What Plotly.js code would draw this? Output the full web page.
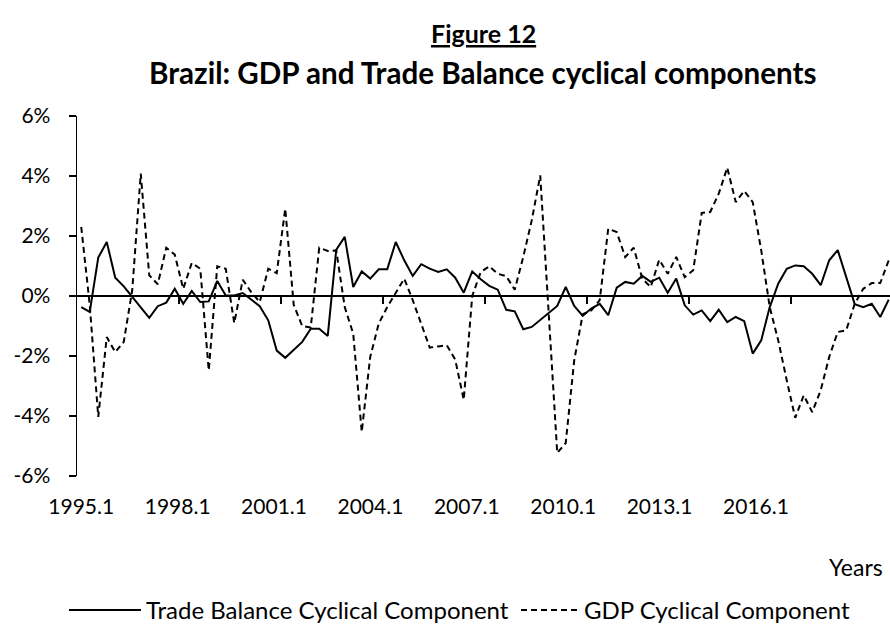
<!DOCTYPE html>
<html>
<head>
<meta charset="utf-8">
<script src="https://cdn.plot.ly/plotly-3.0.1.min.js"></script>
<style>
html,body{margin:0;padding:0;background:#fff;overflow:hidden;}
#chart{width:890px;height:634px;}
</style>
</head>
<body>
<div id="chart"></div>
<script>
// Categories: quarters 1995.1 .. 2018.4
var startYear = 1995, endYear = 2018;
var quarters = [];
for (var yr = startYear; yr <= endYear; yr++) { for (var q = 1; q <= 4; q++) { quarters.push(yr + "." + q); } }

var tickLabels = ["1995.1","1998.1","2001.1","2004.1","2007.1","2010.1","2013.1","2016.1"];
var yTickVals = [-6,-4,-2,0,2,4,6];
var yTickText = ["-6%","-4%","-2%","0%","2%","4%","6%"];

var tradeBalance = [
 -0.37,-0.53,1.28,1.80,0.61,0.32,-0.03,-0.37,-0.73,-0.34,-0.22,0.24,
 -0.26,0.17,-0.20,-0.18,0.50,0.02,0.02,0.10,-0.12,-0.34,-0.81,-1.82,
 -2.06,-1.81,-1.53,-1.09,-1.09,-1.33,1.54,1.97,0.30,0.82,0.58,0.89,
 0.89,1.80,1.19,0.67,1.06,0.91,0.80,0.89,0.61,0.11,0.82,0.56,
 0.34,0.21,-0.46,-0.51,-1.11,-1.03,-0.79,-0.57,-0.33,0.30,-0.33,-0.66,
 -0.42,-0.26,-0.64,0.28,0.47,0.41,0.67,0.47,0.61,0.11,0.58,-0.31,
 -0.62,-0.48,-0.84,-0.46,-0.87,-0.70,-0.84,-1.92,-1.48,-0.37,0.41,0.91,
 1.02,0.99,0.74,0.36,1.19,1.53,0.66,-0.27,-0.37,-0.26,-0.70,-0.12
];

var gdp = [
 2.30,-0.30,-4.03,-1.37,-1.87,-1.53,0.20,4.08,0.69,0.39,1.61,1.38,
 0.24,1.10,0.91,-2.48,0.99,0.91,-0.90,0.54,0.13,-0.20,0.91,0.76,
 2.91,-0.30,-1.00,-1.05,1.61,1.50,1.52,-0.37,-1.26,-4.53,-2.03,-0.92,
 -0.37,0.13,0.58,-0.14,-0.92,-1.72,-1.68,-1.64,-2.12,-3.46,0.00,0.80,
 0.99,0.74,0.66,0.21,1.30,2.52,4.02,-0.60,-5.23,-4.90,-2.14,-0.61,
 -0.48,-0.14,2.24,2.13,1.30,1.61,0.58,0.30,1.21,0.74,1.30,0.63,
 0.86,2.77,2.80,3.41,4.28,3.13,3.50,3.13,1.52,-0.37,-1.48,-2.81,
 -4.06,-3.31,-3.87,-3.14,-2.03,-1.20,-1.14,-0.26,0.24,0.43,0.43,1.19
];

var FONT = "Lato, 'Open Sans', sans-serif";
var idx = quarters.map(function(_, i){ return i; });
// the bottom labels in the source are spread slightly tighter than the 12-quarter tick grid
var labelStep = 11.34;
var labelVals = tickLabels.map(function(_, i){ return i * labelStep; });
var tickEvery = 12;
var boundaryVals = [];
for (var b = tickEvery; b <= quarters.length; b += tickEvery) { boundaryVals.push(b - 0.5); }
var xRange = [-0.5, 95.15];

var traces = [
  {x: idx, y: tradeBalance, type: 'scatter', mode: 'lines', name: 'Trade Balance Cyclical Component',
   line: {color: '#000', width: 2}, xaxis: 'x', yaxis: 'y', hoverinfo: 'skip', legend: 'legend'},
  {x: idx, y: gdp, type: 'scatter', mode: 'lines', name: 'GDP Cyclical Component',
   line: {color: '#000', width: 2, dash: '6px,4px'}, xaxis: 'x', yaxis: 'y', hoverinfo: 'skip', legend: 'legend2'},
  {x: [], y: [], type: 'scatter', mode: 'lines', xaxis: 'x2', yaxis: 'y', showlegend: false, hoverinfo: 'skip'}
];

var legendFont = {family: FONT, size: 24, color: '#000'};

var layout = {
  width: 890, height: 634,
  margin: {l: 77, r: 0, t: 116, b: 158, pad: 0},
  paper_bgcolor: '#fff', plot_bgcolor: '#fff',
  font: {family: FONT, size: 21, color: '#000'},
  showlegend: true,
  xaxis: {
    range: xRange, showgrid: false, zeroline: false, showline: false,
    tickmode: 'array', tickvals: labelVals, ticktext: tickLabels,
    ticks: '', ticklabelstandoff: 16, tickfont: {family: FONT, size: 21, color: '#000'},
    fixedrange: true
  },
  xaxis2: {
    overlaying: 'x', anchor: 'free', position: 0.5, range: xRange,
    showgrid: false, zeroline: false, showline: false,
    tickmode: 'array', tickvals: boundaryVals, ticks: 'outside', ticklen: 7, tickwidth: 1.5,
    tickcolor: '#000', showticklabels: false, fixedrange: true
  },
  yaxis: {
    range: [-6, 6], showgrid: false, zeroline: true, zerolinecolor: '#000', zerolinewidth: 1.6,
    showline: true, linecolor: '#000', linewidth: 1.4,
    tickmode: 'array', tickvals: yTickVals, ticktext: yTickText,
    ticks: 'outside', ticklen: 7, tickwidth: 1.4, tickcolor: '#000',
    ticklabelstandoff: 14, tickfont: {family: FONT, size: 21, color: '#000'}, fixedrange: true
  },
  legend: {
    orientation: 'h', x: -0.016, xanchor: 'left', y: -0.373, yanchor: 'middle',
    font: legendFont, bgcolor: 'rgba(0,0,0,0)', itemwidth: 72
  },
  legend2: {
    orientation: 'h', x: 0.54, xanchor: 'left', y: -0.373, yanchor: 'middle',
    font: legendFont, bgcolor: 'rgba(0,0,0,0)', itemwidth: 58
  },
  annotations: [
    {text: '<b><u>Figure 12</u></b>', xref: 'paper', yref: 'paper', x: 0.4994, y: 1.2297,
     xanchor: 'center', yanchor: 'middle', showarrow: false, font: {family: FONT, size: 25, color: '#000'}},
    {text: '<b>Brazil: GDP and Trade Balance cyclical components</b>', xref: 'paper', yref: 'paper', x: 0.4994, y: 1.1214,
     xanchor: 'center', yanchor: 'middle', showarrow: false, font: {family: FONT, size: 29.6, color: '#000'}},
    {text: 'Years', xref: 'paper', yref: 'paper', x: 0.9938, y: -0.2536,
     xanchor: 'right', yanchor: 'middle', showarrow: false, font: {family: FONT, size: 23, color: '#000'}}
  ]
};

Plotly.newPlot('chart', traces, layout, {displayModeBar: false, staticPlot: true});
</script>
</body>
</html>
